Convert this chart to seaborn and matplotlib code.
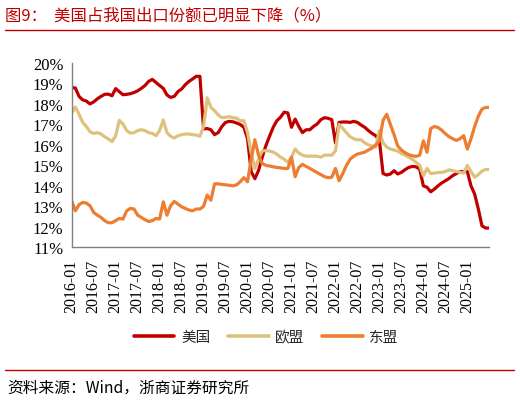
import numpy as np
import pandas as pd
import matplotlib
matplotlib.use("Agg")
import matplotlib.pyplot as plt
import seaborn as sns
from matplotlib.lines import Line2D

# ---------------- data ----------------
months = [str(p) for p in pd.period_range("2016-01", "2025-07", freq="M")]

us = [18.8, 18.78, 18.37, 18.2, 18.14, 18.0, 18.1, 18.25, 18.37, 18.47, 18.48, 18.4,
      18.75, 18.6, 18.45, 18.47, 18.5, 18.56, 18.64, 18.76, 18.9, 19.1, 19.2, 19.05,
      18.9, 18.76, 18.44, 18.32, 18.37, 18.6, 18.73, 18.94, 19.1, 19.22, 19.35, 19.35,
      16.78, 16.8, 16.74, 16.5, 16.6, 16.9, 17.1, 17.15, 17.13, 17.07, 17.0, 16.86,
      16.3, 14.7, 14.35, 14.75, 15.39, 15.96, 16.42, 16.86, 17.18, 17.35, 17.6, 17.56,
      16.86, 17.26, 16.9, 16.6, 16.74, 16.74, 16.9, 17.02, 17.23, 17.33, 17.3, 17.23,
      16.1, 17.1, 17.12, 17.12, 17.1, 17.15, 17.1, 16.97, 16.86, 16.7, 16.56, 16.45,
      16.2, 14.6, 14.53, 14.58, 14.74, 14.58, 14.66, 14.79, 14.9, 14.95, 14.93, 14.82,
      14.0, 13.93, 13.71, 13.84, 14.0, 14.14, 14.25, 14.36, 14.5, 14.6, 14.69, 14.7,
      14.7, 14.0, 13.6, 12.87, 12.05, 11.94, 11.94]

eu = [17.56, 17.85, 17.5, 17.1, 16.9, 16.64, 16.56, 16.6, 16.53, 16.4, 16.29, 16.16,
      16.45, 17.2, 17.02, 16.7, 16.58, 16.6, 16.7, 16.74, 16.7, 16.6, 16.56, 16.45,
      16.7, 17.22, 16.6, 16.42, 16.34, 16.45, 16.5, 16.53, 16.53, 16.5, 16.48, 16.42,
      16.9, 18.3, 17.83, 17.67, 17.46, 17.33, 17.35, 17.38, 17.33, 17.31, 17.18, 17.18,
      16.6, 15.6, 14.85, 15.3, 15.7, 15.72, 15.7, 15.65, 15.55, 15.4, 15.3, 15.15,
      15.4, 15.8, 15.6, 15.5, 15.45, 15.45, 15.45, 15.45, 15.4, 15.5, 15.5, 15.5,
      15.7, 17.0, 16.8, 16.6, 16.4, 16.3, 16.25, 16.25, 16.1, 16.0, 15.95, 15.9,
      16.7, 16.1, 15.9, 15.8, 15.75, 15.7, 15.58, 15.5, 15.4, 15.3, 15.15, 15.0,
      14.5, 14.85, 14.6, 14.62, 14.65, 14.66, 14.7, 14.78, 14.75, 14.7, 14.66, 14.62,
      15.0, 14.7, 14.42, 14.55, 14.72, 14.8, 14.8]

asean = [13.27, 12.78, 13.08, 13.19, 13.16, 13.03, 12.7, 12.57, 12.46, 12.3, 12.2, 12.2,
         12.3, 12.41, 12.38, 12.78, 12.9, 12.87, 12.57, 12.46, 12.35, 12.26, 12.3, 12.41,
         12.38, 13.22, 12.57, 13.03, 13.24, 13.11, 12.98, 12.9, 12.82, 12.78, 12.87, 12.87,
         13.0, 13.55, 13.3, 14.1, 14.1, 14.07, 14.05, 14.03, 14.0, 14.05, 14.2, 14.4,
         14.2, 15.3, 16.25, 15.5, 15.1, 15.0, 14.97, 14.93, 14.9, 14.88, 14.85, 14.85,
         15.4, 14.45, 14.9, 15.05, 14.95, 14.85, 14.75, 14.65, 14.55, 14.45, 14.4, 14.42,
         14.85, 14.25, 14.6, 15.0, 15.3, 15.45, 15.55, 15.6, 15.65, 15.75, 15.85, 16.0,
         16.2, 17.2, 17.5, 17.0, 16.5, 15.95, 15.75, 15.62, 15.52, 15.47, 15.44, 15.5,
         16.2, 15.64, 16.8, 16.9, 16.85, 16.72, 16.55, 16.4, 16.3, 16.22, 16.3, 16.45,
         15.8, 16.3, 16.9, 17.4, 17.75, 17.83, 17.83]

series_names = ["美国", "欧盟", "东盟"]
colors = ["#C00000", "#DEC27C", "#ED7D31"]
y_ticks = [11, 12, 13, 14, 15, 16, 17, 18, 19, 20]

# ---------------- frame ----------------
n = len(months)
df = pd.DataFrame({
    "idx": list(range(n)) * 3,
    "value": us + eu + asean,
    "series": [series_names[0]] * n + [series_names[1]] * n + [series_names[2]] * n,
})

sns.set_theme(style="white")
plt.rcParams["font.family"] = ["Noto Sans CJK SC", "DejaVu Sans"]

W, H = 520, 402
fig = plt.figure(figsize=(W / 100, H / 100), dpi=100)
left, right, top, bottom = 71.7, 489.3, 64.0, 248.3
ax = fig.add_axes([left / W, 1 - bottom / H, (right - left) / W, (bottom - top) / H])

sns.lineplot(data=df, x="idx", y="value", hue="series", hue_order=series_names,
             palette=colors, linewidth=2.3, legend=False, ax=ax)
for ln in ax.lines:
    ln.set_solid_joinstyle("round")
    ln.set_solid_capstyle("round")

ax.set_xlim(0, n - 1)
ax.set_ylim(11, 20)
ax.set_xlabel("")
ax.set_ylabel("")

tick_pos = list(range(0, n, 6))
tick_lab = [months[i] if months[i] <= "2025-01" else "" for i in tick_pos]
ax.set_xticks(tick_pos)
ax.set_xticklabels(tick_lab, rotation=90, family="Liberation Serif", fontsize=11.5)
ax.set_yticks(y_ticks)
ax.set_yticklabels([f"{v}%" for v in y_ticks], family="Liberation Serif", fontsize=12)

for s in ["top", "right"]:
    ax.spines[s].set_visible(False)
for s in ["left", "bottom"]:
    ax.spines[s].set_color("#808080")
    ax.spines[s].set_linewidth(1.0)
ax.tick_params(axis="both", which="major", direction="out", length=4, width=1,
               color="#808080", labelcolor="black")
ax.tick_params(axis="x", pad=4)
ax.tick_params(axis="y", pad=2)
ax.grid(False)
ax.set_facecolor("white")

# legend
handles = [Line2D([0], [0], color=c, lw=2.6) for c in colors]
fig.legend(handles, series_names, loc="center", bbox_to_anchor=(266 / W, 1 - 338 / H),
           ncol=3, frameon=False, fontsize=10.5, handlelength=2.8, handletextpad=0.45,
           columnspacing=1.2)

# title, rules, source
fig.text(5 / W, 1 - 16 / H, "图9：  美国占我国出口份额已明显下降（%）", color="#C00000",
         fontsize=11.8, ha="left", va="center")
fig.add_artist(Line2D([5 / W, 514 / W], [1 - 31 / H, 1 - 31 / H], color="#C00000", lw=1.0))
fig.add_artist(Line2D([5 / W, 514 / W], [1 - 371 / H, 1 - 371 / H], color="#C00000", lw=1.0))
fig.text(7 / W, 1 - 388 / H, "资料来源：Wind，浙商证券研究所", color="black",
         fontsize=11.3, ha="left", va="center")

fig.savefig("out.png", dpi=100, facecolor="white")
